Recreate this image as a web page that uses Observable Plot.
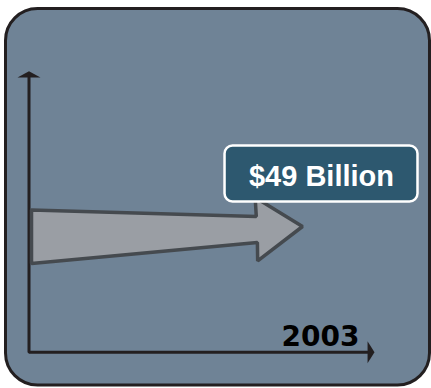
<!DOCTYPE html>
<html>
<head>
<meta charset="utf-8">
<script src="https://cdn.jsdelivr.net/npm/d3@7"></script>
<script src="https://cdn.jsdelivr.net/npm/@observablehq/plot@0.6"></script>
<style>
  html, body { margin: 0; padding: 0; background: #ffffff; }
  #chart svg { display: block; }
</style>
</head>
<body>
<div id="chart"></div>
<script>
// ---- data ----
const years = ["2003"];
const values = [49];            // billions of dollars
const labels = ["$49 Billion"];

// ---- layout (chart units: x = billions, y = relative height 0..100) ----
const xDomain = [-5.106, 72.11];
const yDomain = [-12.92, 125.16];
const yAxisTop = 100, yAxisHeadBase = 97.76, yHeadHalf = 2.06;
const xAxisEnd = 61.9, xAxisHeadBase = 60.65, xHeadHalf = 3.9;

const v = values[0];
const tail = 0.45;
const headBase = v * 0.831;
const arrowPts = [
  [tail, 50.6], [headBase, 48.3], [headBase - 0.2, 55.05], [v, 44.73],
  [headBase + 0.25, 32.46], [headBase + 0.2, 39.04], [tail, 31.57], [tail, 50.6]
].map(([x, y]) => ({x, y}));

const yHead = [[-yHeadHalf, yAxisHeadBase], [0, yAxisTop], [yHeadHalf, yAxisHeadBase]].map(([x, y]) => ({x, y}));
const xHead = [[xAxisHeadBase, -xHeadHalf], [xAxisEnd, 0], [xAxisHeadBase, xHeadHalf]].map(([x, y]) => ({x, y}));

const bg = [{x1: -4.12, x2: 71.84, y1: -11.85, y2: 122.14}];
const box = [{x1: 35.12, x2: 69.69, y1: 53.45, y2: 73.38}];

const chart = Plot.plot({
  width: 431,
  height: 388,
  margin: 0,
  x: {domain: xDomain, axis: null},
  y: {domain: yDomain, axis: null},
  style: {background: "transparent", overflow: "visible"},
  marks: [
    Plot.rect(bg, {x1: "x1", x2: "x2", y1: "y1", y2: "y2", rx: 32, fill: "#6f8396", stroke: "#231f20", strokeWidth: 3}),
    // axes
    Plot.line([{x: 0, y: yAxisHeadBase}, {x: 0, y: 0}, {x: xAxisHeadBase, y: 0}], {x: "x", y: "y", stroke: "#231f20", strokeWidth: 3, strokeLinejoin: "miter"}),
    Plot.line(yHead, {x: "x", y: "y", fill: "#231f20", stroke: "none"}),
    Plot.line(xHead, {x: "x", y: "y", fill: "#231f20", stroke: "none"}),
    // growth arrow
    Plot.line(arrowPts, {x: "x", y: "y", fill: "#9a9ea4", stroke: "#454a4f", strokeWidth: 3.5, strokeLinejoin: "miter"}),
    // label box
    Plot.rect(box, {x1: "x1", x2: "x2", y1: "y1", y2: "y2", rx: 8, fill: "#2d586f", stroke: "#ffffff", strokeWidth: 2.5}),
    Plot.text(labels, {x: () => 52.4, y: () => 62.6, text: d => d, fill: "#ffffff", fontSize: 29, fontWeight: "bold", fontFamily: "Liberation Sans, Arial, sans-serif", textAnchor: "middle"}),
    Plot.text(years, {x: () => 59.2, y: () => 5.23, text: d => d, fill: "#000000", fontSize: 28, fontWeight: "bold", fontFamily: "DejaVu Sans, sans-serif", textAnchor: "end"})
  ]
});
document.getElementById("chart").appendChild(chart);
</script>
</body>
</html>
